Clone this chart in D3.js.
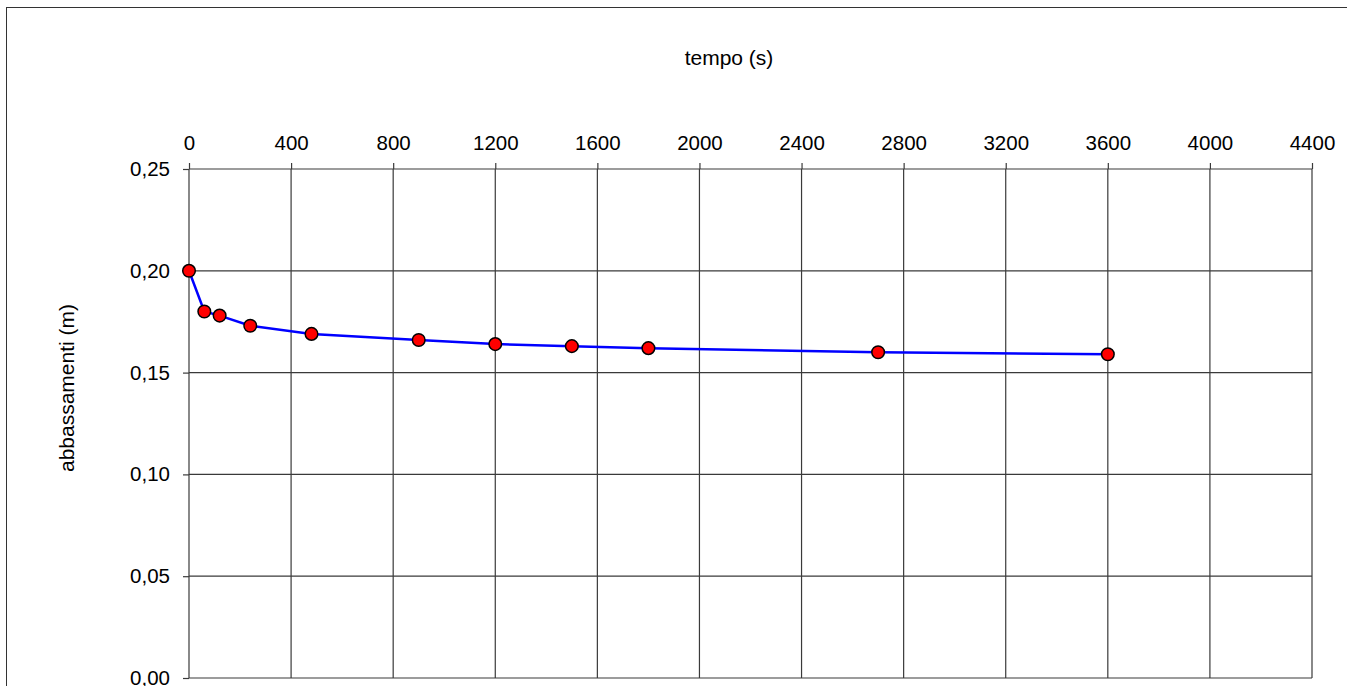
<!DOCTYPE html>
<html>
<head>
<meta charset="utf-8">
<script src="https://cdn.jsdelivr.net/npm/d3@7"></script>
<style>
  html, body { margin: 0; padding: 0; background: #fff; }
  svg { display: block; font-family: "Liberation Sans", Arial, sans-serif; }
  .axis path { display: none; }
  .axis line, .grid line { stroke: #3a3a3a; stroke-width: 1.2; }
  .axis text { fill: #000; font-size: 20.5px; }
</style>
</head>
<body>
<svg id="chart" width="1347" height="686"></svg>
<script>
// tempo (s) / abbassamenti (m)
var tempo = [0, 60, 120, 240, 480, 900, 1200, 1500, 1800, 2700, 3600];
var abbassamenti = [0.200, 0.180, 0.178, 0.173, 0.169, 0.166, 0.164, 0.163, 0.162, 0.160, 0.159];

var xTicks = [0, 400, 800, 1200, 1600, 2000, 2400, 2800, 3200, 3600, 4000, 4400];
var yTicks = [0, 0.05, 0.10, 0.15, 0.20, 0.25];

var margin = {left: 189, top: 169};
var plotW = 1123, plotH = 509;

var svg = d3.select("#chart");

// outer frame, runs off the right and bottom edges
svg.append("rect")
  .attr("x", 6.5)
  .attr("y", 7.5)
  .attr("width", 1400)
  .attr("height", 700)
  .attr("fill", "none")
  .attr("stroke", "#333")
  .attr("stroke-width", 1);

var x = d3.scaleLinear().domain([0, 4400]).range([0, plotW]);
var y = d3.scaleLinear().domain([0, 0.25]).range([plotH, 0]);

var itLocale = d3.formatLocale({decimal: ",", thousands: "", grouping: [3], currency: ["", "€"]});
var fmtY = itLocale.format(".2f");

var g = svg.append("g")
  .attr("transform", "translate(" + margin.left + "," + margin.top + ")");

// grid
g.append("g").attr("class", "grid")
  .selectAll("line.v")
  .data(xTicks)
  .join("line")
  .attr("x1", function(d) { return x(d); })
  .attr("x2", function(d) { return x(d); })
  .attr("y1", 0)
  .attr("y2", plotH);

g.append("g").attr("class", "grid")
  .selectAll("line.h")
  .data(yTicks)
  .join("line")
  .attr("x1", 0)
  .attr("x2", plotW)
  .attr("y1", function(d) { return y(d); })
  .attr("y2", function(d) { return y(d); });

// axes
g.append("g").attr("class", "axis")
  .call(d3.axisTop(x).tickValues(xTicks).tickSize(6).tickPadding(13).tickFormat(d3.format("d")));

g.append("g").attr("class", "axis")
  .call(d3.axisLeft(y).tickValues(yTicks).tickSize(6).tickPadding(13).tickFormat(fmtY));

// titles
svg.append("text")
  .attr("x", 729)
  .attr("y", 57)
  .attr("text-anchor", "middle")
  .attr("dominant-baseline", "central")
  .style("font-size", "21px")
  .text("tempo (s)");

svg.append("text")
  .attr("transform", "translate(66,388) rotate(-90)")
  .attr("text-anchor", "middle")
  .attr("dominant-baseline", "central")
  .style("font-size", "21px")
  .text("abbassamenti (m)");

// series
var pts = tempo.map(function(t, i) { return [t, abbassamenti[i]]; });

g.append("path")
  .datum(pts)
  .attr("fill", "none")
  .attr("stroke", "#0000ff")
  .attr("stroke-width", 2.5)
  .attr("d", d3.line()
    .x(function(d) { return x(d[0]); })
    .y(function(d) { return y(d[1]); }));

g.selectAll("circle.pt")
  .data(pts)
  .join("circle")
  .attr("class", "pt")
  .attr("cx", function(d) { return x(d[0]); })
  .attr("cy", function(d) { return y(d[1]); })
  .attr("r", 6.3)
  .attr("fill", "#ff0000")
  .attr("stroke", "#000")
  .attr("stroke-width", 1.5);
</script>
</body>
</html>
